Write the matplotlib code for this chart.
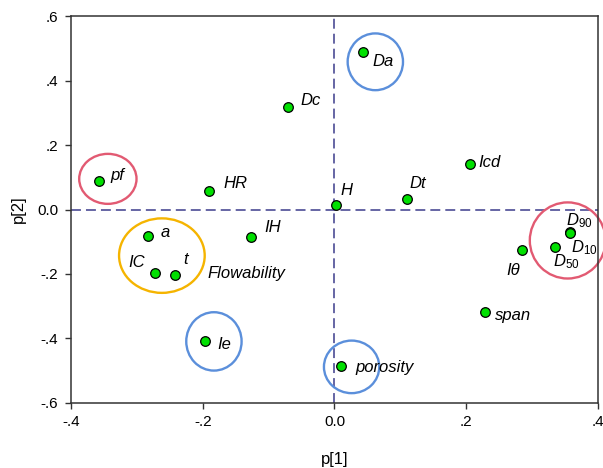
import matplotlib
matplotlib.use("Agg")
import matplotlib.pyplot as plt
from matplotlib.patches import Ellipse

plt.rcParams['font.family'] = ['Liberation Sans', 'DejaVu Sans']
plt.rcParams['mathtext.fontset'] = 'custom'
plt.rcParams['mathtext.rm'] = 'Liberation Sans'
plt.rcParams['mathtext.it'] = 'Liberation Sans:italic'

# loadings p[1], p[2]
names = ['pf', 'HR', 'Dc', 'Da', 'H', 'Dt', 'Icd', 'a', 'IH', 'IC', 't',
         'Ie', 'porosity', 'span', 'Iθ', 'D50', 'D90', 'D10']
p1 = [-0.357, -0.190, -0.070, 0.044, 0.002, 0.110, 0.206, -0.283, -0.126,
      -0.272, -0.242, -0.197, 0.010, 0.229, 0.285, 0.335, 0.357, 0.358]
p2 = [0.088, 0.058, 0.317, 0.487, 0.013, 0.032, 0.142, -0.081, -0.086,
      -0.196, -0.203, -0.407, -0.484, -0.318, -0.127, -0.117, -0.071, -0.072]
labels = ['pf', 'HR', 'Dc', 'Da', 'H', 'Dt', 'Icd', 'a', 'IH', 'IC', 't',
          'Ie', 'porosity', 'span', 'Iθ', r'$\mathit{D_{50}}$',
          r'$\mathit{D_{90}}$', r'$\mathit{D_{10}}$']
# label offsets in pixels and alignment
offsets = {'pf': (11, 6), 'HR': (14, 7), 'Dc': (12, 7), 'Da': (9, -9),
           'H': (5, 15), 'Dt': (3, 16), 'Icd': (8, 1), 'a': (13, 3),
           'IH': (13, 10), 'IC': (-10, 10), 't': (8, 15), 'Ie': (13, -4),
           'porosity': (14, -2), 'span': (10, -3), 'Iθ': (-2, -20),
           'D50': (-2, -14), 'D90': (-4, 12), 'D10': (1, -15)}
right_aligned = ['IC', 'Iθ']

# highlighted groups: centre x, centre y, width, height, colour
groups = [
    (-0.344, 0.095, 0.087, 0.155, '#E25A72'),
    (0.354, -0.096, 0.115, 0.236, '#E25A72'),
    (-0.262, -0.143, 0.130, 0.231, '#F5B400'),
    (0.062, 0.458, 0.084, 0.176, '#5B8FDB'),
    (-0.183, -0.409, 0.084, 0.181, '#5B8FDB'),
    (0.026, -0.488, 0.084, 0.163, '#5B8FDB'),
]

fig = plt.figure(figsize=(6.03, 4.68), dpi=100)
ax = fig.add_axes([0.1177, 0.1389, 0.8740, 0.8269])

ax.axhline(0, color='#3C3C8C', lw=1.1, dashes=[6.5, 3.3], zorder=1)
ax.axvline(0, color='#3C3C8C', lw=1.1, dashes=[6.5, 3.3], zorder=1)

for cx, cy, w, h, c in groups:
    ax.add_patch(Ellipse((cx, cy), w, h, fill=False, ec=c, lw=1.7,
                         clip_on=False, zorder=2))

ax.scatter(p1, p2, s=48, c='#00E000', edgecolors='black', linewidths=0.9,
           zorder=3)

for n, x, y, lab in zip(names, p1, p2, labels):
    dx, dy = offsets[n]
    ha = 'right' if n in right_aligned else 'left'
    ax.annotate(lab, (x, y), xytext=(dx, dy), textcoords='offset pixels',
                ha=ha, va='center', fontsize=12, style='italic', zorder=4)

ax.text(-0.1925, -0.198, 'Flowability', ha='left', va='center',
        fontsize=12, style='italic')

ax.set_xlim(-0.4, 0.4)
ax.set_ylim(-0.6, 0.6)
xt = [-0.4, -0.2, 0.0, 0.2, 0.4]
yt = [-0.6, -0.4, -0.2, 0.0, 0.2, 0.4, 0.6]
ax.set_xticks(xt)
ax.set_yticks(yt)
ax.set_xticklabels(['-.4', '-.2', '0.0', '.2', '.4'])
ax.set_yticklabels(['-.6', '-.4', '-.2', '0.0', '.2', '.4', '.6'])
ax.tick_params(direction='out', length=4, width=1.0, color='#333333',
               labelsize=11, pad=5)
for s in ax.spines.values():
    s.set_color('#333333')
    s.set_linewidth(1.1)

ax.set_xlabel('p[1]', fontsize=12, labelpad=16)
ax.set_ylabel('p[2]', fontsize=12, labelpad=8)

fig.savefig('out.png', dpi=100)
